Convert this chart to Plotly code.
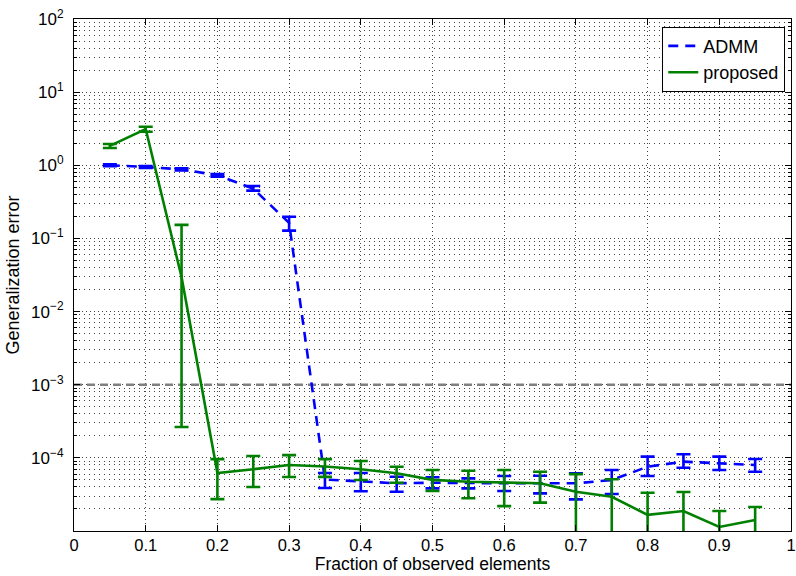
import plotly.graph_objects as go

# ---------------- data ----------------
fraction = [0.05, 0.10, 0.15, 0.20, 0.25, 0.30, 0.35, 0.40, 0.45, 0.50,
            0.55, 0.60, 0.65, 0.70, 0.75, 0.80, 0.85, 0.90, 0.95]

admm_mean = [1.00, 0.95, 0.88, 0.73, 0.48, 0.163, 5.05e-5, 4.8e-5, 4.49e-5, 4.57e-5,
             4.49e-5, 4.49e-5, 4.49e-5, 4.49e-5, 4.97e-5, 7.57e-5, 8.87e-5, 8.4e-5, 8.0e-5]
admm_upper = [1.03, 0.98, 0.91, 0.76, 0.52, 0.198, 6.2e-5, 6.2e-5, 5.52e-5, 5.42e-5,
              5.25e-5, 5.65e-5, 5.7e-5, 6.15e-5, 6.82e-5, 1.04e-4, 1.12e-4, 1.04e-4, 9.64e-5]
admm_lower = [0.97, 0.92, 0.85, 0.70, 0.45, 0.128, 3.87e-5, 3.5e-5, 3.44e-5, 3.83e-5,
              3.83e-5, 3.52e-5, 3.27e-5, 2.71e-5, 3.2e-5, 5.65e-5, 7.33e-5, 6.82e-5, 6.47e-5]

prop_mean = [1.84, 3.13, 0.0297, 6.2e-5, 7.0e-5, 7.97e-5, 7.6e-5, 6.97e-5, 6.15e-5, 5.0e-5,
             4.72e-5, 4.57e-5, 4.49e-5, 3.44e-5, 2.94e-5, 1.66e-5, 1.875e-5, 1.135e-5, 1.41e-5]
prop_upper = [1.95, 3.36, 0.153, 9.6e-5, 1.06e-4, 1.09e-4, 9.6e-5, 9.06e-5, 7.57e-5, 6.82e-5,
              6.67e-5, 6.82e-5, 6.47e-5, 6.0e-5, 5.09e-5, 3.33e-5, 3.41e-5, 1.875e-5, 2.13e-5]
# lower ends below 1e-5 run off the bottom of the axes
prop_lower = [1.72, 2.88, 2.64e-4, 2.73e-5, 4.0e-5, 5.47e-5, 5.5e-5, 4.97e-5, 4.57e-5, 3.52e-5,
              2.8e-5, 2.19e-5, 2.44e-5, 5e-6, 5e-6, 5e-6, 5e-6, 5e-6, 5e-6]

threshold = 1e-3

x_tickvals = [0, 0.1, 0.2, 0.3, 0.4, 0.5, 0.6, 0.7, 0.8, 0.9, 1.0]
x_ticktext = ["0", "0.1", "0.2", "0.3", "0.4", "0.5", "0.6", "0.7", "0.8", "0.9", "1"]
y_exponents = [-4, -3, -2, -1, 0, 1, 2]
y_minor_mult = [2, 3, 4, 5, 6, 7, 8, 9]
y_minor_exponents = [-5, -4, -3, -2, -1, 0, 1]

# ---------------- derived helpers ----------------
y_tickvals = [10.0 ** e for e in y_exponents]
y_ticktext = ["10<sup>" + (str(e) if e >= 0 else "\u2212" + str(-e)) + "</sup>" for e in y_exponents]
y_minorvals = [m * 10.0 ** e for e in y_minor_exponents for m in y_minor_mult]

FONT = "Liberation Sans, Arial, Helvetica, sans-serif"

fig = go.Figure()

# threshold line
fig.add_trace(go.Scatter(
    x=[x_tickvals[0], x_tickvals[-1]], y=[threshold, threshold],
    mode="lines", line=dict(color="#808080", width=2.6, dash="8px,5px"),
    showlegend=False, hoverinfo="skip"))

fig.add_trace(go.Scatter(
    x=fraction, y=admm_mean, name="ADMM", mode="lines",
    line=dict(color="#0000FF", width=2.6, dash="10px,7px"),
    error_y=dict(type="data", symmetric=False,
                 array=[u - m for u, m in zip(admm_upper, admm_mean)],
                 arrayminus=[m - l for m, l in zip(admm_mean, admm_lower)],
                 color="#0000FF", thickness=2.6, width=7)))

fig.add_trace(go.Scatter(
    x=fraction, y=prop_mean, name="proposed", mode="lines",
    line=dict(color="#008000", width=2.6),
    error_y=dict(type="data", symmetric=False,
                 array=[u - m for u, m in zip(prop_upper, prop_mean)],
                 arrayminus=[m - l for m, l in zip(prop_mean, prop_lower)],
                 color="#008000", thickness=2.6, width=7)))

fig.update_layout(
    width=796, height=576,
    margin=dict(l=74, r=5, t=19, b=45, autoexpand=False),
    paper_bgcolor="white", plot_bgcolor="white",
    font=dict(family=FONT, size=17, color="black"),
    showlegend=True,
    legend=dict(x=0.992, y=0.985, xanchor="right", yanchor="top",
                bgcolor="white", bordercolor="black", borderwidth=1,
                font=dict(size=18), tracegroupgap=0),
)

fig.update_xaxes(
    range=[0, 1], tickmode="array", tickvals=x_tickvals, ticktext=x_ticktext,
    showline=True, linecolor="black", linewidth=1, mirror="ticks",
    ticks="inside", ticklen=6, tickcolor="black", tickwidth=1,
    showgrid=True, gridcolor="#444444", gridwidth=1, griddash="1px,3px",
    zeroline=False, ticklabelstandoff=-1, automargin=False, ticklabeloverflow="allow",
    title=dict(text="Fraction of observed elements", font=dict(size=17.5), standoff=4),
    tickfont=dict(size=16.5),
)

fig.update_yaxes(
    type="log", range=[-5, 2], tickmode="array", tickvals=y_tickvals, ticktext=y_ticktext,
    showline=True, linecolor="black", linewidth=1, mirror="ticks",
    ticks="inside", ticklen=6, tickcolor="black", tickwidth=1,
    showgrid=True, gridcolor="#444444", gridwidth=1, griddash="1px,3px",
    zeroline=False, ticklabelstandoff=6, automargin=False,
    minor=dict(tickmode="array", tickvals=y_minorvals, ticks="inside", ticklen=3,
               tickcolor="black", showgrid=True, gridcolor="#444444", gridwidth=1,
               griddash="1px,4px"),
    title=dict(text="Generalization error", font=dict(size=18), standoff=6),
    tickfont=dict(size=17),
)

fig.write_html("out.html", config={"displayModeBar": False},
               post_script="document.body.style.margin='0';document.body.style.overflow='hidden';")
